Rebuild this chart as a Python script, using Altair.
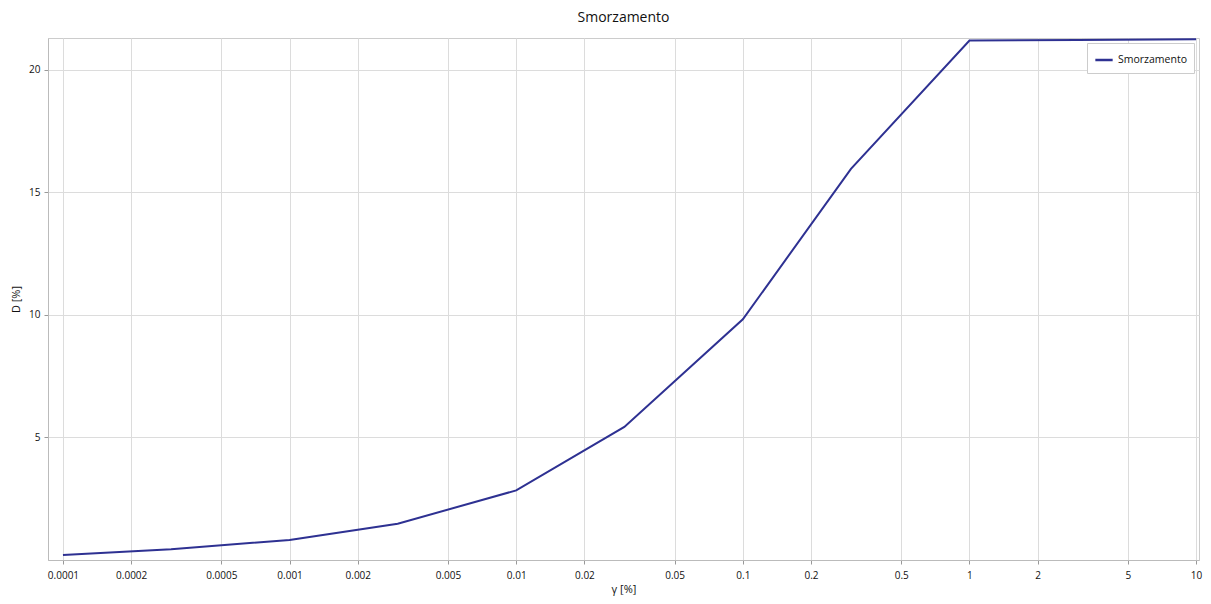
import altair as alt
import pandas as pd

# Data
gamma = [0.0001, 0.0003, 0.001, 0.003, 0.01, 0.03, 0.1, 0.3, 1, 3, 10]
damping = [0.2, 0.44, 0.82, 1.48, 2.84, 5.43, 9.82, 15.96, 21.2, 21.22, 21.25]
series_name = "Smorzamento"

x_ticks = [0.0001, 0.0002, 0.0005, 0.001, 0.002, 0.005, 0.01, 0.02, 0.05,
           0.1, 0.2, 0.5, 1, 2, 5, 10]
y_ticks = [5, 10, 15, 20]

df = pd.DataFrame({"gamma": gamma, "D": damping, "serie": [series_name] * len(gamma)})

FONT = "Open Sans"
LINE_COLOR = "#2e3192"

chart = (
    alt.Chart(df)
    .mark_line(strokeWidth=2)
    .encode(
        x=alt.X(
            "gamma:Q",
            scale=alt.Scale(type="log", domain=[0.0000859, 10.3], nice=False),
            axis=alt.Axis(
                title="γ [%]",
                values=x_ticks,
                format="~g",
                grid=True,
                gridColor="#dcdcdc",
                domainColor="#bbbbbb",
                tickColor="#999999",
                tickSize=4,
                labelPadding=6,
                labelFontSize=10,
                labelColor="#111111",
                titleFontSize=11,
                titleFontWeight="normal",
                titleColor="#111111",
                titlePadding=3,
                labelFont=FONT,
                titleFont=FONT,
            ),
        ),
        y=alt.Y(
            "D:Q",
            scale=alt.Scale(domain=[0, 21.3], nice=False),
            axis=alt.Axis(
                title="D [%]",
                values=y_ticks,
                grid=True,
                gridColor="#dcdcdc",
                domainColor="#bbbbbb",
                tickColor="#999999",
                tickSize=4,
                labelPadding=4,
                labelFontSize=10,
                labelColor="#111111",
                titleFontSize=11,
                titleFontWeight="normal",
                titleColor="#111111",
                titlePadding=7,
                labelFont=FONT,
                titleFont=FONT,
            ),
        ),
        color=alt.Color(
            "serie:N",
            scale=alt.Scale(range=[LINE_COLOR]),
            legend=alt.Legend(
                title=None,
                orient="top-right",
                offset=5,
                symbolType="stroke",
                symbolStrokeWidth=2.5,
                symbolSize=300,
                labelFontSize=10.5,
                labelFont=FONT,
                labelColor="#111111",
                strokeColor="#cccccc",
                fillColor="white",
                padding=7,
            ),
        ),
    )
    .properties(
        width=1151,
        height=522,
        title=alt.TitleParams(
            "Smorzamento", fontSize=14, fontWeight="normal", font=FONT,
            color="#111111", anchor="middle", offset=10,
        ),
        autosize=alt.AutoSizeParams(type="none"),
        padding={"left": 40, "top": 30, "right": 4, "bottom": 38},
    )
    .configure_view(stroke="#cccccc")
)

chart.save("out.html", embed_options={"renderer": "svg", "actions": False})
